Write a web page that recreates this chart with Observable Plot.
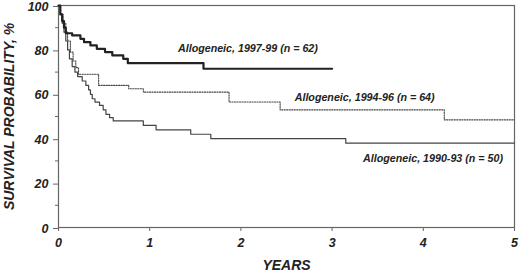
<!DOCTYPE html>
<html>
<head>
<meta charset="utf-8">
<script src="https://cdn.jsdelivr.net/npm/d3@7"></script>
<script src="https://cdn.jsdelivr.net/npm/@observablehq/plot@0.6"></script>
<style>
  html, body { margin: 0; padding: 0; background: #fff; }
  #chart svg { display: block; overflow: visible; }
</style>
</head>
<body>
<div id="chart"></div>
<script>
// Allogeneic 1997-99 (n = 62)
const years9799 = [0, 0.02, 0.04, 0.06, 0.08, 0.15, 0.24, 0.28, 0.35, 0.42, 0.51, 0.59, 0.71, 0.76, 1.59, 3.0];
const surv9799  = [100, 96, 93, 90, 87.5, 86.5, 85, 83.5, 82, 80.5, 79, 77.5, 76, 74, 71.5, 71.5];
// Allogeneic 1994-96 (n = 64)
const years9496 = [0, 0.02, 0.05, 0.08, 0.10, 0.13, 0.16, 0.19, 0.22, 0.44, 0.77, 0.93, 1.87, 2.43, 4.23, 5.0];
const surv9496  = [100, 96, 92, 88, 84, 79, 75, 72, 69, 64, 62.5, 61, 56.5, 53, 48.5, 48.5];
// Allogeneic 1990-93 (n = 50)
const years9093 = [0, 0.02, 0.04, 0.06, 0.08, 0.10, 0.12, 0.15, 0.18, 0.21, 0.26, 0.30, 0.33, 0.35, 0.37, 0.40, 0.45, 0.49, 0.52, 0.56, 0.60, 0.93, 1.07, 1.45, 1.67, 3.15, 5.0];
const surv9093  = [100, 96, 92, 88, 84, 80, 76, 72.5, 70, 68, 66, 64, 62, 60, 58, 56.5, 55, 53, 51, 49.5, 48, 46, 44, 42, 40, 38, 38];

const seriesNames = ["Allogeneic, 1997-99 (n = 62)", "Allogeneic, 1994-96 (n = 64)", "Allogeneic, 1990-93 (n = 50)"];
const xTicks = [0, 1, 2, 3, 4, 5];
const yTicks = [0, 20, 40, 60, 80, 100];
const yMinorTicks = [10, 30, 50, 70, 90];

const toRows = (xs, ys) => xs.map((x, i) => ({x, y: ys[i]}));
const d9799 = toRows(years9799, surv9799);
const d9496 = toRows(years9496, surv9496);
const d9093 = toRows(years9093, surv9093);

// label anchor points (annotation placement, data coordinates)
const labelX = [1.31, 2.59, 3.34];
const labelY = [80.7, 58.7, 31];
const labels = seriesNames.map((t, i) => ({t, x: labelX[i], y: labelY[i]}));

const font = "'Liberation Sans', Arial, sans-serif";

const chart = Plot.plot({
  width: 520,
  height: 273,
  marginLeft: 58,
  marginRight: 6,
  marginTop: 5,
  marginBottom: 46,
  style: {fontFamily: font, background: "#fff", color: "#222", overflow: "visible"},
  x: {domain: [0, 5]},
  y: {domain: [0, 100]},
  marks: [
    Plot.frame({stroke: "#666", strokeWidth: 1.2}),
    Plot.axisY(yTicks, {tickSize: 5, tickPadding: 5, dy: 1, fontSize: 12.5, fontWeight: "bold", fontStyle: "italic", fill: "#222", stroke: "#666", label: null}),
    Plot.axisY(yMinorTicks, {tickSize: 3, text: null, stroke: "#666", label: null}),
    Plot.axisX(xTicks, {tickSize: 4, tickPadding: 7, fontSize: 12.5, fontWeight: "bold", fontStyle: "italic", fill: "#222", stroke: "#666", label: null}),
    Plot.line(d9093, {x: "x", y: "y", curve: "step-after", stroke: "#444", strokeWidth: 1.2}),
    Plot.line(d9496, {x: "x", y: "y", curve: "step-after", stroke: "#444", strokeWidth: 1.1, strokeDasharray: "1.2,1.3"}),
    Plot.line(d9799, {x: "x", y: "y", curve: "step-after", stroke: "#222", strokeWidth: 2.2}),
    Plot.text(labels, {x: "x", y: "y", text: "t", textAnchor: "start", lineAnchor: "middle", fontSize: 10.7, fontWeight: "bold", fontStyle: "italic", fill: "#222"}),
    Plot.text(["SURVIVAL PROBABILITY, %"], {frameAnchor: "left", rotate: -90, dx: -49, textAnchor: "middle", lineAnchor: "middle", fontSize: 14, fontWeight: "bold", fontStyle: "italic", fill: "#222"}),
    Plot.text(["YEARS"], {frameAnchor: "bottom", dy: 38, textAnchor: "middle", lineAnchor: "middle", fontSize: 14, fontWeight: "bold", fontStyle: "italic", fill: "#222"})
  ]
});
document.getElementById("chart").appendChild(chart);
</script>
</body>
</html>
